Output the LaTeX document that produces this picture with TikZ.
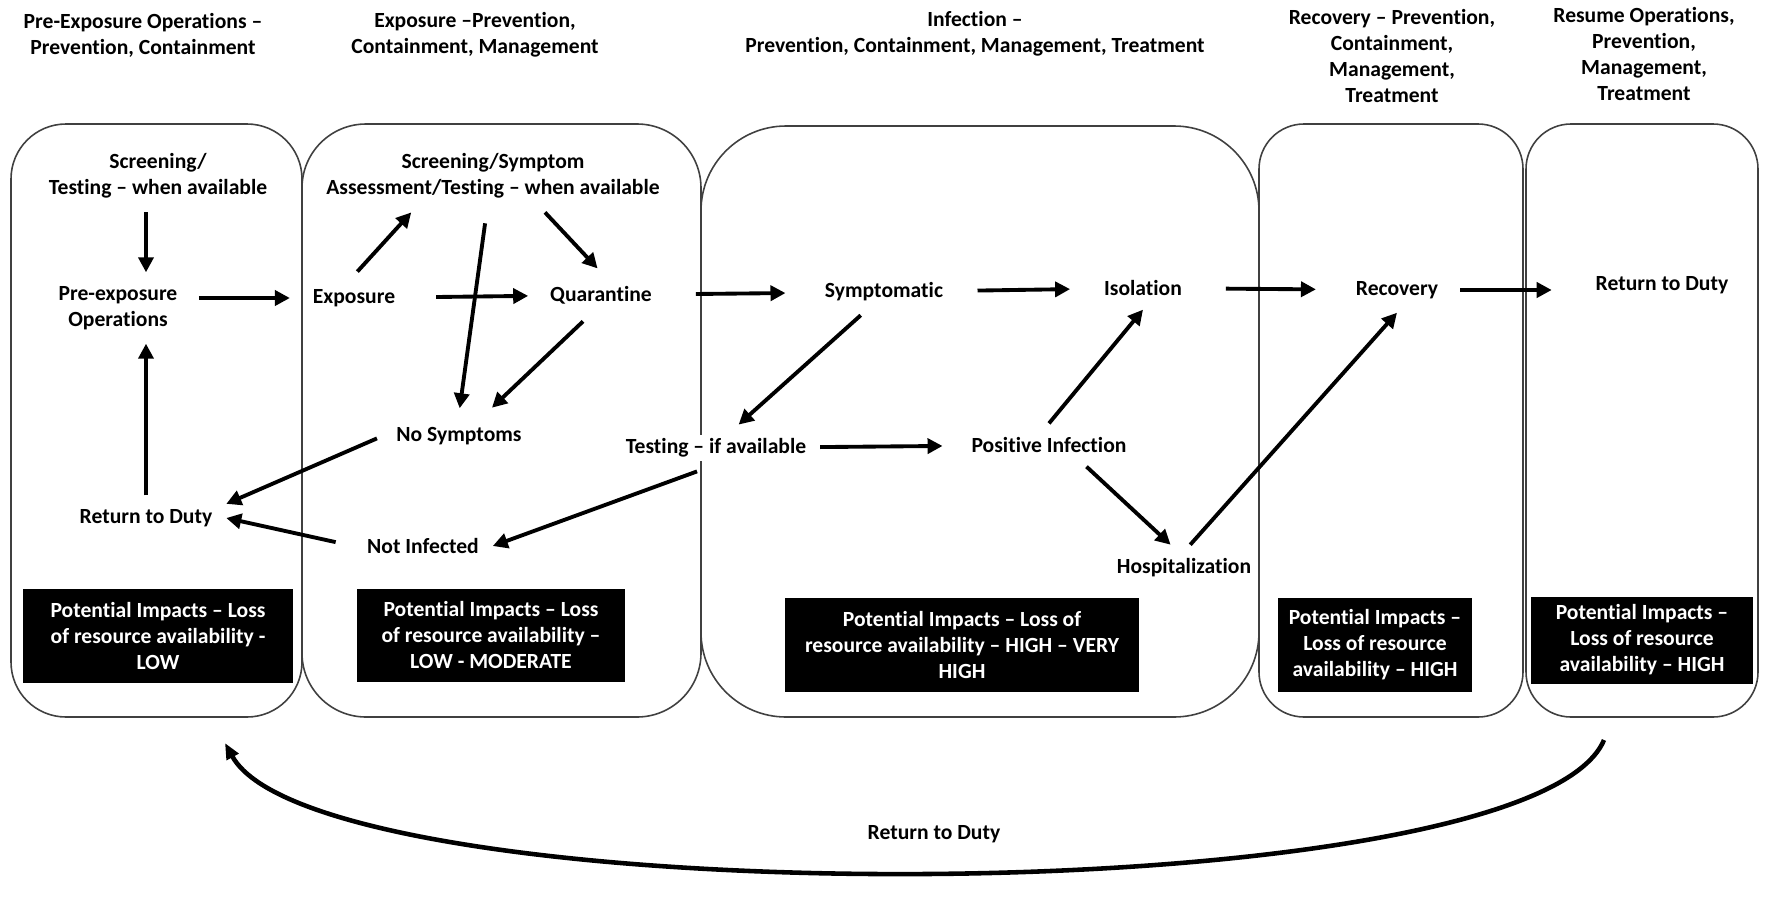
\documentclass[tikz,border=0pt]{standalone}
\usepackage{fontspec}
\setmainfont[Ligatures=NoCommon]{Carlito}
\usetikzlibrary{arrows.meta}
\definecolor{Edge}{HTML}{404040}
\tikzset{
  phase/.style={draw=Edge, line width=0.9pt, rounded corners=#1},
  heading/.style={align=center, font=\bfseries\fontsize{12.3}{14.8}\selectfont},
  stage/.style={align=center, font=\bfseries\fontsize{12.3}{14.8}\selectfont,
    inner sep=0.08cm, outer sep=0.2cm},
  impact/.style={fill=black, text=white, align=center, inner sep=0pt,
    font=\bfseries\fontsize{12.3}{14.8}\selectfont},
  flow/.style={-{Triangle[length=0.3cm,width=0.3cm]}, line width=2.2pt},
  backflow/.style={-{Triangle[length=0.32cm,width=0.26cm]}, line width=2.6pt}
}

\begin{document}
\begin{tikzpicture}[x=0.02cm,y=-0.02cm]
  \useasboundingbox (0,0) rectangle (1765,903);
  % headings of the phases
  \node[heading] (t1) at (143,35) {Pre-Exposure Operations –\\Prevention, Containment};
  \node[heading] (t2) at (475,35) {Exposure –Prevention,\\Containment, Management};
  \node[heading] (t3) at (975,34) {Infection –\\Prevention, Containment, Management, Treatment};
  \node[heading] (t4) at (1392,56) {Recovery – Prevention,\\Containment,\\Management,\\Treatment};
  \node[heading] (t5) at (1644,54) {Resume Operations,\\Prevention,\\Management,\\Treatment};
  % phase frames
  \draw[phase=1.1cm] (11,124) rectangle (302,717);
  \draw[phase=1.28cm] (302,124) rectangle (701,717);
  \draw[phase=1.7cm] (701,126) rectangle (1259,717);
  \draw[phase=0.9cm] (1259,124) rectangle (1523,717);
  \draw[phase=0.9cm] (1526,124) rectangle (1758,717);
  % stages
  \node[stage] (scr1) at (158,176) {Screening/\\Testing – when available};
  \node[stage] (pre) at (118,308) {Pre-exposure\\Operations};
  \node[stage] (rtd1) at (146,518) {Return to Duty};
  \node[stage] (scr2) at (493,176) {Screening/Symptom\\Assessment/Testing – when available};
  \node[stage] (exp) at (354,298) {Exposure};
  \node[stage] (quar) at (601,295) {Quarantine};
  \node[stage] (nosym) at (459,436) {No Symptoms};
  \node[stage] (notinf) at (423,546) {Not Infected};
  \node[stage,fill=white] (test) at (716,448) {Testing – if available};
  \node[stage] (symp) at (884,292) {Symptomatic};
  \node[stage] (iso) at (1143,288) {Isolation};
  \node[stage] (pos) at (1049,445) {Positive Infection};
  \node[stage] (hosp) at (1184,568) {Hospitalization};
  \node[stage] (rec) at (1397,290) {Recovery};
  \node[stage] (rtd5) at (1662,285) {Return to Duty};
  % impacts
  \node[impact,minimum width=5.4cm,minimum height=1.88cm] (imp1) at (158,636)
    {Potential Impacts – Loss\\of resource availability -\\LOW};
  \node[impact,minimum width=5.36cm,minimum height=1.86cm] (imp2) at (491,635)
    {Potential Impacts – Loss\\of resource availability –\\LOW - MODERATE};
  \node[impact,minimum width=7.08cm,minimum height=1.88cm] (imp3) at (962,645)
    {Potential Impacts – Loss of\\resource availability – HIGH – VERY\\HIGH};
  \node[impact,minimum width=3.88cm,minimum height=1.88cm] (imp4) at (1375,645)
    {Potential Impacts –\\Loss of resource\\availability – HIGH};
  \node[impact,minimum width=4.44cm,minimum height=1.74cm] (imp5) at (1642,640)
    {Potential Impacts –\\Loss of resource\\availability – HIGH};
  % flows
  \draw[flow] (scr1.south -| rtd1) -- (pre.north -| rtd1);
  \draw[flow] (rtd1) -- (rtd1 |- pre.south);
  \draw[flow,shorten <=0.15cm,shorten >=0.18cm] (pre.east |- exp) -- (exp);
  \draw[flow,shorten <=0.1cm] (exp.north) -- (scr2.204);
  \draw[flow,shorten <=0.22cm,shorten >=0.1cm] (scr2.260) -- (nosym.north);
  \draw[flow,shorten >=0.1cm] (scr2.-35) -- (quar.north);
  \draw[flow,shorten <=0.54cm,shorten >=0.16cm] (exp) -- (quar);
  \draw[flow,shorten <=0.1cm,shorten >=0.16cm] (quar.238) -- (nosym.40);
  \draw[flow,shorten <=0.12cm] (nosym.west) -- (rtd1.10);
  \draw[flow,shorten <=0.36cm] (notinf.west) -- (rtd1.east);
  \draw[flow] (test.231) -- (notinf.east);
  \draw[flow,shorten <=0.6cm,shorten >=0.51cm] (quar) -- (symp);
  \draw[flow] (symp.225) -- (test.46);
  \draw[flow,shorten >=0.3cm] (test) -- (pos);
  \draw[flow,shorten <=0.41cm,shorten >=0.4cm] (symp) -- (iso);
  \draw[flow] (pos.north) -- (iso.south);
  \draw[flow] (pos.-30) -- (hosp.120);
  \draw[flow] (hosp.75) -- (rec.south);
  \draw[flow,shorten <=0.6cm,shorten >=0.52cm] (iso) -- (rec);
  \draw[flow,shorten <=0.16cm,shorten >=0.6cm] (rec) -- (rec -| rtd5.west);
  % back to duty
  \coordinate (arcR) at (1604,740);
  \coordinate (arcL) at (225,743);
  \draw[backflow] (arcR) .. controls (1530,916) and (320,916) .. (arcL);
  \node[stage] (back) at (934,834) {Return to Duty};
\end{tikzpicture}
\end{document}
